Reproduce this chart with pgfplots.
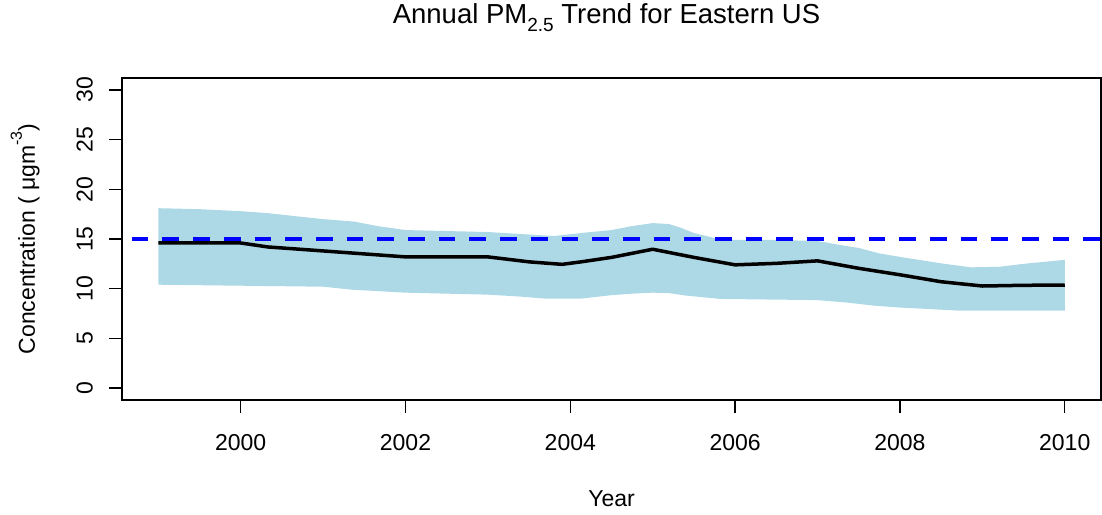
\documentclass[border=0pt]{standalone}
\usepackage{fontspec}
\setmainfont{Liberation Sans}
\usepackage{pgfplots}
\pgfplotsset{compat=1.18}
\definecolor{bandblue}{HTML}{ADD8E6}
\begin{document}
\begin{tikzpicture}[x=1pt,y=1pt]
\useasboundingbox (0,0) rectangle (1102,514);
\begin{axis}[
  at={(122pt,114pt)}, anchor=south west,
  scale only axis, width=979pt, height=322pt,
  xmin=1998.56, xmax=2010.44, ymin=-1.2, ymax=31.2,
  xtick={2000,2002,2004,2006,2008,2010},
  ytick={0,5,10,15,20,25,30},
  tick align=outside, xtick pos=bottom, ytick pos=left,
  major tick length=13pt,
  every tick/.style={black, line width=1.3pt},
  axis line style={line width=1.3pt},
  /pgf/number format/assume math mode=true,
  /pgf/number format/1000 sep={},
  ticklabel style={font=\fontsize{23}{27}\selectfont},
  xticklabel style={anchor=north, inner sep=0pt, yshift=-21pt},
  yticklabel style={xshift=-16pt, rotate=90, anchor=south, inner sep=0pt},
  xlabel={Year},
  ylabel={Concentration ( μgm\raisebox{13pt}{\fontsize{16}{16}\selectfont -3})},
  label style={font=\fontsize{23}{27}\selectfont},
  xlabel style={at={(axis description cs:0.5,-0.3292)}, anchor=base},
  ylabel style={at={(axis description cs:-0.0889,0.5)}, anchor=base},
  title={Annual PM\raisebox{-8pt}{\fontsize{19}{19}\selectfont 2.5} Trend for Eastern US},
  title style={font=\fontsize{27.5}{30}\selectfont, at={(axis description cs:0.5,1)}, anchor=base, yshift=48pt, xshift=-5pt},
]
\addplot[fill=bandblue, draw=none] coordinates {
(1999,18.1) (1999.5,18.0) (2000,17.8) (2000.33,17.6) (2000.66,17.3) (2001,17.0)
(2001.38,16.75) (2001.66,16.3) (2002,15.9) (2003,15.7) (2003.4,15.5) (2003.8,15.3)
(2004.13,15.6) (2004.5,15.9) (2004.75,16.3) (2005,16.6) (2005.2,16.5) (2005.35,16.1)
(2005.5,15.6) (2005.75,15.1) (2006,14.9) (2006.5,14.9) (2007,14.8) (2007.27,14.4)
(2007.5,14.1) (2007.75,13.55) (2008,13.2) (2008.5,12.55) (2008.86,12.15) (2009.2,12.2)
(2009.5,12.5) (2010,12.9)
(2010,7.8) (2008.7,7.8) (2008.36,7.95) (2008,8.1) (2007.68,8.3) (2007.36,8.6)
(2007,8.85) (2005.82,8.97) (2005.41,9.3) (2005.2,9.55) (2005,9.6) (2004.75,9.5)
(2004.5,9.35) (2004.13,9.0) (2003.7,9.0) (2003.4,9.2) (2003,9.4) (2002,9.6)
(2001.35,9.9) (2001,10.2) (1999,10.4)
};
\addplot[blue, line width=3.5pt, dash pattern=on 16.7pt off 14pt, dash phase=21pt] coordinates {(1998.56,15) (2010.44,15)};
\addplot[black, line width=3.5pt, line join=round] coordinates {
(1999,14.6) (2000,14.6) (2000.33,14.2) (2001,13.8) (2001.5,13.5) (2002,13.2)
(2003,13.2) (2003.5,12.7) (2003.9,12.45) (2004.13,12.7) (2004.5,13.15) (2005,13.97)
(2005.5,13.15) (2006,12.4) (2006.5,12.55) (2007,12.8) (2007.5,12.05) (2008,11.4)
(2008.5,10.7) (2009,10.27) (2009.5,10.34) (2010,10.37)
};
\end{axis}
\end{tikzpicture}
\end{document}
